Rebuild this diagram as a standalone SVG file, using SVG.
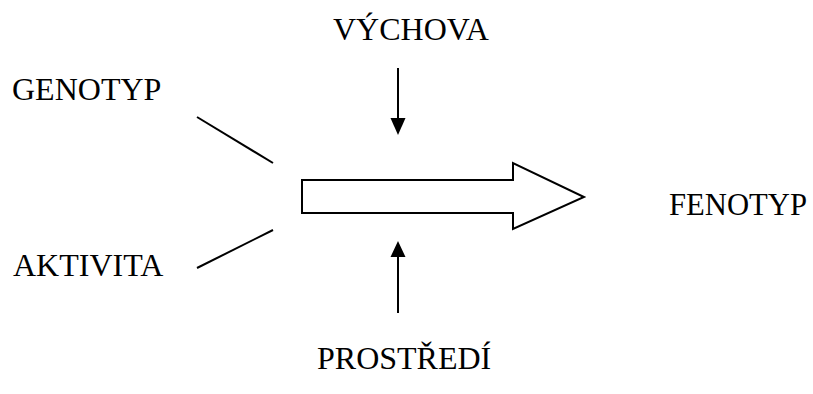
<svg xmlns="http://www.w3.org/2000/svg" width="813" height="394" viewBox="0 0 813 394">
<style>
text{font-family:"Liberation Serif","Times New Roman",serif;font-size:32px;fill:#000}
.ln{stroke:#000;stroke-width:2;fill:none}
.ah{fill:#000}
</style>
<rect width="813" height="394" fill="#fff"/>
<g id="genotyp"><text x="12" y="100">GENOTYP</text></g>
<g id="vychova"><text x="333" y="40">VÝCHOVA</text></g>
<g id="fenotyp"><text x="669" y="215" textLength="138" lengthAdjust="spacingAndGlyphs">FENOTYP</text></g>
<g id="aktivita"><text x="13" y="276">AKTIVITA</text></g>
<g id="prostredi"><text x="317" y="369">PROSTŘEDÍ</text></g>
<g id="process"><path d="M302,180 L513,180 L513,163 L584,197 L513,229 L513,213 L302,213 Z" fill="#fff" stroke="#000" stroke-width="2" stroke-linejoin="miter"/></g>
<g id="connectors">
<line class="ln" x1="197" y1="117" x2="273" y2="163"/>
<line class="ln" x1="197" y1="268" x2="273" y2="230"/>
<line class="ln" x1="398" y1="68" x2="398" y2="119"/>
<path class="ah" d="M390.5,118 L405.5,118 L398,135 Z"/>
<line class="ln" x1="398" y1="313" x2="398" y2="256"/>
<path class="ah" d="M390.5,257 L405.5,257 L398,241 Z"/>
</g>
</svg>
